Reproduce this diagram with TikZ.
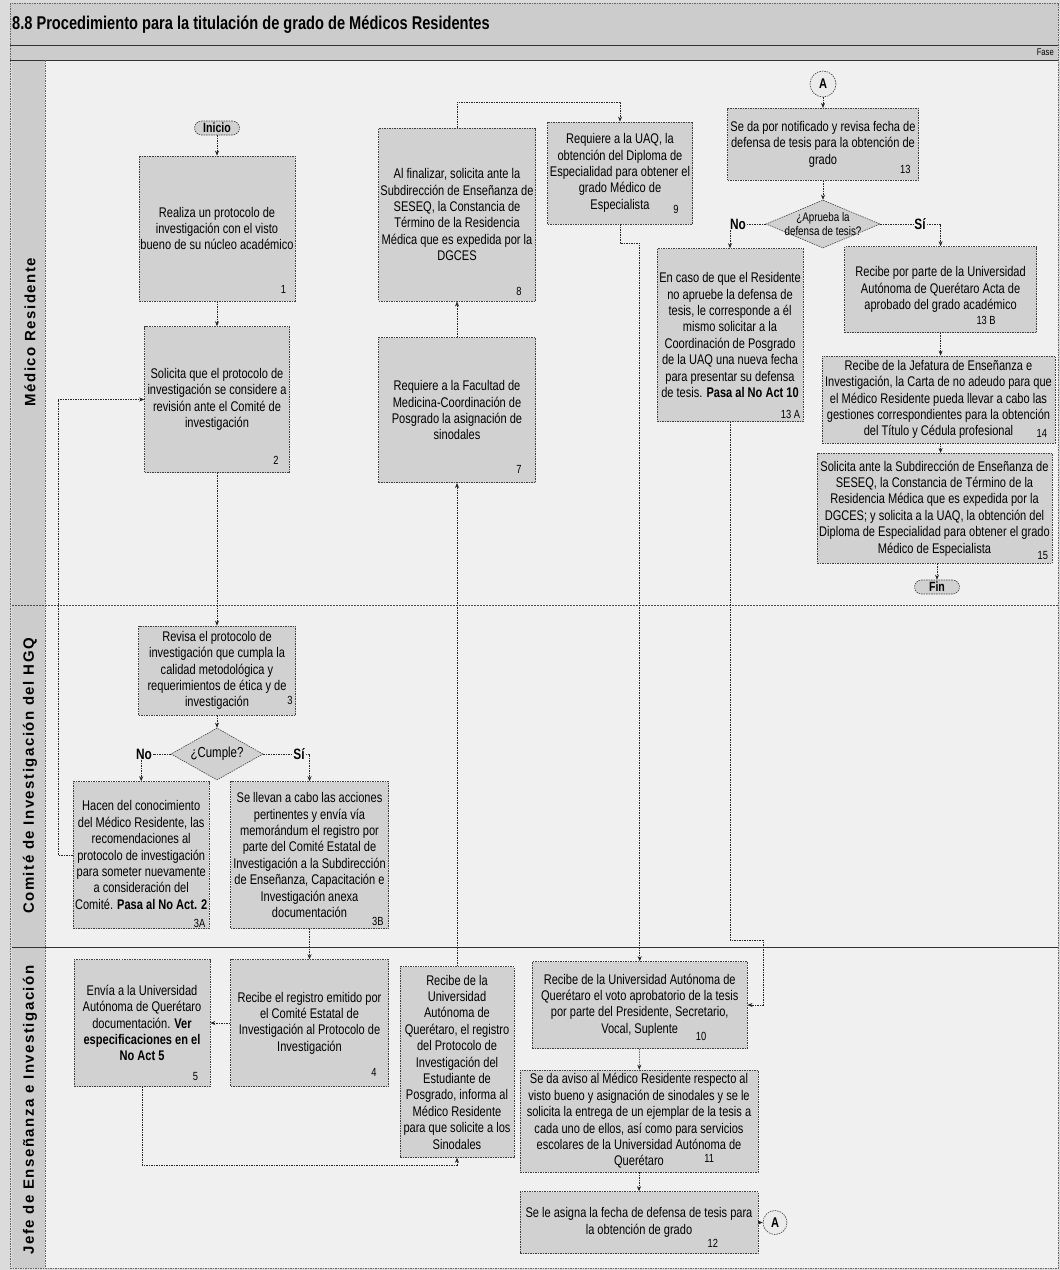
\documentclass[tikz,border=0pt]{standalone}
\usepackage{fontspec}
\setmainfont{Liberation Sans}[FakeStretch=0.79]
\newfontfamily\lanefont{Liberation Sans}[LetterSpace=10]
\usetikzlibrary{arrows.meta,shapes.geometric,calc}
\definecolor{boxfill}{gray}{0.82}
\definecolor{lanebg}{gray}{0.94}
\definecolor{barfill}{gray}{0.80}
\definecolor{pagebg}{gray}{0.86}
\begin{document}
\begin{tikzpicture}[x=1pt,y=-1pt,
  box/.style={draw=black!75, line width=0.6pt, dash pattern=on 1.5pt off 1pt, fill=boxfill, align=center, inner sep=1pt, font=\fontsize{14}{16.4}\selectfont},
  num/.style={font=\fontsize{11.8}{12}\selectfont, inner sep=0pt, anchor=south east},
  conn/.style={draw=black!85, line width=0.6pt, dash pattern=on 1.5pt off 1pt, -{Stealth[length=5pt,width=4pt]}},
  plain/.style={draw=black!85, line width=0.6pt, dash pattern=on 1.5pt off 1pt},
  dec/.style={diamond, draw=black!75, line width=0.6pt, dash pattern=on 1.5pt off 1pt, fill=boxfill, inner sep=0pt},
  dectext/.style={align=center, inner sep=0pt},
  term/.style={draw=black!75, line width=0.6pt, dash pattern=on 1.5pt off 1pt, fill=boxfill, rounded corners=7pt, minimum width=45, minimum height=14, inner sep=0pt, font=\bfseries\fontsize{13.4}{14}\selectfont},
  conna/.style={circle, draw=black!75, line width=0.6pt, dash pattern=on 1.5pt off 1pt, fill=black!8, inner sep=0pt, font=\bfseries\fontsize{14}{15}\selectfont},
  yn/.style={font=\bfseries\fontsize{15}{16}\selectfont, inner sep=1pt},
  lane/.style={rotate=90, font=\lanefont\bfseries\fontsize{15}{18}\selectfont, inner sep=0pt},
]
\useasboundingbox (0,0) rectangle (1060,1270);
% background and frame
\fill[pagebg] (0,0) rectangle (1060,1270);
\fill[barfill] (10,3) rectangle (1058,60);
\fill[lanebg] (45,60) rectangle (1058,1268);
\fill[barfill] (12,60) rectangle (45,1268);
\draw[black!60, dash pattern=on 1.5pt off 1pt] (10,3) rectangle (1058,1268);
\draw[black!80, line width=1pt] (10,45) -- (1058,45);
\draw[black!80, line width=1pt] (10,60) -- (1058,60);
\draw[black!60, dash pattern=on 1.5pt off 1pt] (45,60) -- (45,1268);
\draw[black!70, line width=0.8pt, dash pattern=on 2pt off 1pt] (12,605) -- (1058,605);
\draw[black!80, line width=1pt] (12,947) -- (1058,947);

\node[anchor=west, inner sep=0pt, font=\bfseries\fontsize{18.5}{20}\selectfont] (title) at (12,25) {8.8 Procedimiento para la titulación de grado de Médicos Residentes};
\node[anchor=east, inner sep=0pt, font=\fontsize{9.7}{10}\selectfont] (fase) at (1054,52) {Fase};

\node[lane] (lane1) at (30,332) {Médico Residente};
\node[lane] (lane2) at (30,776) {Comité de Investigación del HGQ};
\node[lane] (lane3) at (30,1110) {Jefe de Enseñanza e Investigación};

% Médico Residente
\node[term] (ini) at (217,128) {Inicio};
\node[box, minimum width=156, minimum height=145] (b1) at (217,228.4) {Realiza un protocolo de\\investigación con el visto\\bueno de su núcleo académico};
\node[num] (n1) at ($(b1.south east)+(-9,-8)$) {1};
\node[box, minimum width=145, minimum height=146] (b2) at (217,399.5) {Solicita que el protocolo de\\investigación se considere a\\revisión ante el Comité de\\investigación};
\node[num] (n2) at ($(b2.south east)+(-11,-8)$) {2};
\node[box, minimum width=157, minimum height=173] (b8) at (457,214.7) {Al finalizar, solicita ante la\\Subdirección de Enseñanza de\\SESEQ, la Constancia de\\Término de la Residencia\\Médica que es expedida por la\\DGCES};
\node[num] (n8) at ($(b8.south east)+(-14,-6)$) {8};
\node[box, minimum width=157, minimum height=145] (b7) at (457,410.2) {Requiere a la Facultad de\\Medicina-Coordinación de\\Posgrado la asignación de\\sinodales};
\node[num] (n7) at ($(b7.south east)+(-14,-9)$) {7};
\node[box, minimum width=145, minimum height=102] (b9) at (620,172.9) {Requiere a la UAQ, la\\obtención del Diploma de\\Especialidad para obtener el\\grado Médico de\\Especialista};
\node[num] (n9) at ($(b9.south east)+(-14,-10)$) {9};
\node[conna, minimum size=26] (A1) at (823,84) {A};
\node[box, minimum width=191, minimum height=72] (b13) at (823,144.2) {Se da por notificado y revisa fecha de\\defensa de tesis para la obtención de\\grado};
\node[num] (n13) at ($(b13.south east)+(-8,-7)$) {13};
\node[dec, minimum width=114, minimum height=48] (d13) at (823,224) {};
\node[dectext, font=\fontsize{12.4}{13.5}\selectfont] (d13t) at (d13) {¿Aprueba la\\defensa de tesis?};
\node[yn] (no2) at (738,224) {No};
\node[yn] (si2) at (920,224) {Sí};
\node[box, minimum width=146, minimum height=173] (b13A) at (730,335) {En caso de que el Residente\\no apruebe la defensa de\\tesis, le corresponde a él\\mismo solicitar a la\\Coordinación de Posgrado\\de la UAQ una nueva fecha\\para presentar su defensa\\de tesis. \textbf{Pasa al No Act 10}};
\node[num] (n13A) at ($(b13A.south east)+(-3,-3)$) {13 A};
\node[box, minimum width=192, minimum height=86] (b13B) at (940.6,289.5) {Recibe por parte de la Universidad\\Autónoma de Querétaro Acta de\\aprobado del grado académico};
\node[num] (n13B) at ($(b13B.south east)+(-41,-8)$) {13 B};
\node[box, minimum width=233, minimum height=87] (b14) at (938.5,399.4) {Recibe de la Jefatura de Enseñanza e\\Investigación, la Carta de no adeudo para que\\el Médico Residente pueda llevar a cabo las\\gestiones correspondientes para la obtención\\del Título y Cédula profesional\hspace{22pt}};
\node[num] (n14) at ($(b14.south east)+(-8,-6)$) {14};
\node[box, minimum width=235, minimum height=110] (b15) at (934.5,508.3) {Solicita ante la Subdirección de Enseñanza de\\SESEQ, la Constancia de Término de la\\Residencia Médica que es expedida por la\\DGCES; y solicita a la UAQ, la obtención del\\Diploma de Especialidad para obtener el grado\\Médico de Especialista};
\node[num] (n15) at ($(b15.south east)+(-4,-4)$) {15};
\node[term] (fin) at (937,587) {Fin};

% Comité
\node[box, minimum width=157, minimum height=89] (b3) at (217,670.5) {Revisa el protocolo de\\investigación que cumpla la\\calidad metodológica y\\requerimientos de ética y de\\investigación};
\node[num] (n3) at ($(b3.south east)+(-3,-10)$) {3};
\node[dec, minimum width=92, minimum height=52] (d3) at (217,754) {};
\node[dectext, font=\fontsize{14.5}{15}\selectfont] (d3t) at (d3) {¿Cumple?};
\node[yn] (no1) at (144,754) {No};
\node[yn] (si1) at (299,754) {Sí};
\node[box, minimum width=136, minimum height=147] (b3A) at (141.2,855) {Hacen del conocimiento\\del Médico Residente, las\\recomendaciones al\\protocolo de investigación\\para someter nuevamente\\a consideración del\\Comité. \textbf{Pasa al No Act. 2}};
\node[num] (n3A) at ($(b3A.south east)+(-4,-1)$) {3A};
\node[box, minimum width=158, minimum height=147] (b3B) at (309.5,855) {Se llevan a cabo las acciones\\pertinentes y envía vía\\memorándum el registro por\\parte del Comité Estatal de\\Investigación a la Subdirección\\de Enseñanza, Capacitación e\\Investigación anexa\\documentación};
\node[num] (n3B) at ($(b3B.south east)+(-5,-3)$) {3B};

% Jefe de Enseñanza
\node[box, minimum width=136, minimum height=127] (b5) at (142,1023) {Envía a la Universidad\\Autónoma de Querétaro\\documentación. \textbf{Ver}\\\textbf{especificaciones en el}\\\textbf{No Act 5}};
\node[num] (n5) at ($(b5.south east)+(-12,-6)$) {5};
\node[box, minimum width=158, minimum height=127] (b4) at (309.5,1023) {Recibe el registro emitido por\\el Comité Estatal de\\Investigación al Protocolo de\\Investigación};
\node[num] (n4) at ($(b4.south east)+(-12,-10)$) {4};
\node[box, minimum width=114, minimum height=191] (b6) at (457,1062) {Recibe de la\\Universidad\\Autónoma de\\Querétaro, el registro\\del Protocolo de\\Investigación del\\Estudiante de\\Posgrado, informa al\\Médico Residente\\para que solicite a los\\Sinodales};
\node[box, minimum width=215, minimum height=87] (b10) at (639.7,1005) {Recibe de la Universidad Autónoma de\\Querétaro el voto aprobatorio de la tesis\\por parte del Presidente, Secretario,\\Vocal, Suplente\hspace{30pt}};
\node[num] (n10) at ($(b10.south east)+(-41,-8)$) {10};
\node[box, minimum width=238, minimum height=102] (b11) at (639,1121) {Se da aviso al Médico Residente respecto al\\visto bueno y asignación de sinodales y se le\\solicita la entrega de un ejemplar de la tesis a\\cada uno de ellos, así como para servicios\\escolares de la Universidad Autónoma de\\Querétaro\hspace{30pt}};
\node[num] (n11) at ($(b11.south east)+(-44,-10)$) {11};
\node[box, minimum width=238, minimum height=62] (b12) at (639,1222.5) {Se le asigna la fecha de defensa de tesis para\\la obtención de grado};
\node[num] (n12) at ($(b12.south east)+(-40,-6)$) {12};
\node[conna, minimum size=24] (A2) at (775,1222.5) {A};

% connectors
\draw[conn] (ini) -- (b1);
\draw[conn] (b1) -- (b2);
\draw[conn] (b2) -- (b3);
\draw[conn] (b3) -- (d3);
\draw[plain] (d3.west) -- (no1.east);
\draw[conn] (b3A.north |- no1.south) -- (b3A.north);
\draw[plain] (d3.east) -- (si1.west);
\draw[conn] (si1.east) -| (b3B.north);
\draw[conn] (b3A.west) -- ++(-14.8,0) |- (b2.west);
\draw[conn] (b3B) -- (b4);
\draw[conn] (b4) -- (b5);
\draw[conn] (b5.south) -- ++(0,78.3) -| (b6.south);
\draw[conn] (b6) -- (b7);
\draw[conn] (b7) -- (b8);
\draw[conn] (b8.north) -- ++(0,-26) -| (b9.north);
\draw[conn] (b9.south) -- ++(0,19) -| (b10.north);
\draw[conn] (A1) -- (b13);
\draw[conn] (b13) -- (d13);
\draw[plain] (d13.west) -- (no2.east);
\draw[conn] (b13A.north |- no2.south) -- (b13A.north);
\draw[plain] (d13.east) -- (si2.west);
\draw[conn] (si2.east) -| (b13B.north);
\draw[conn] (b13B.south) -- (b13B.south |- b14.north);
\draw[conn] (b14.south -| b13B.south) -- (b13B.south |- b15.north);
\draw[conn] (b15.south -| fin.north) -- (fin.north);
\draw[conn] (b13A.south) -- ++(0,518.3) -- ++(32.8,0) |- (b10.east);
\draw[conn] (b10) -- (b11);
\draw[conn] (b11) -- (b12);
\draw[conn] (b12) -- (A2);
\end{tikzpicture}
\end{document}
